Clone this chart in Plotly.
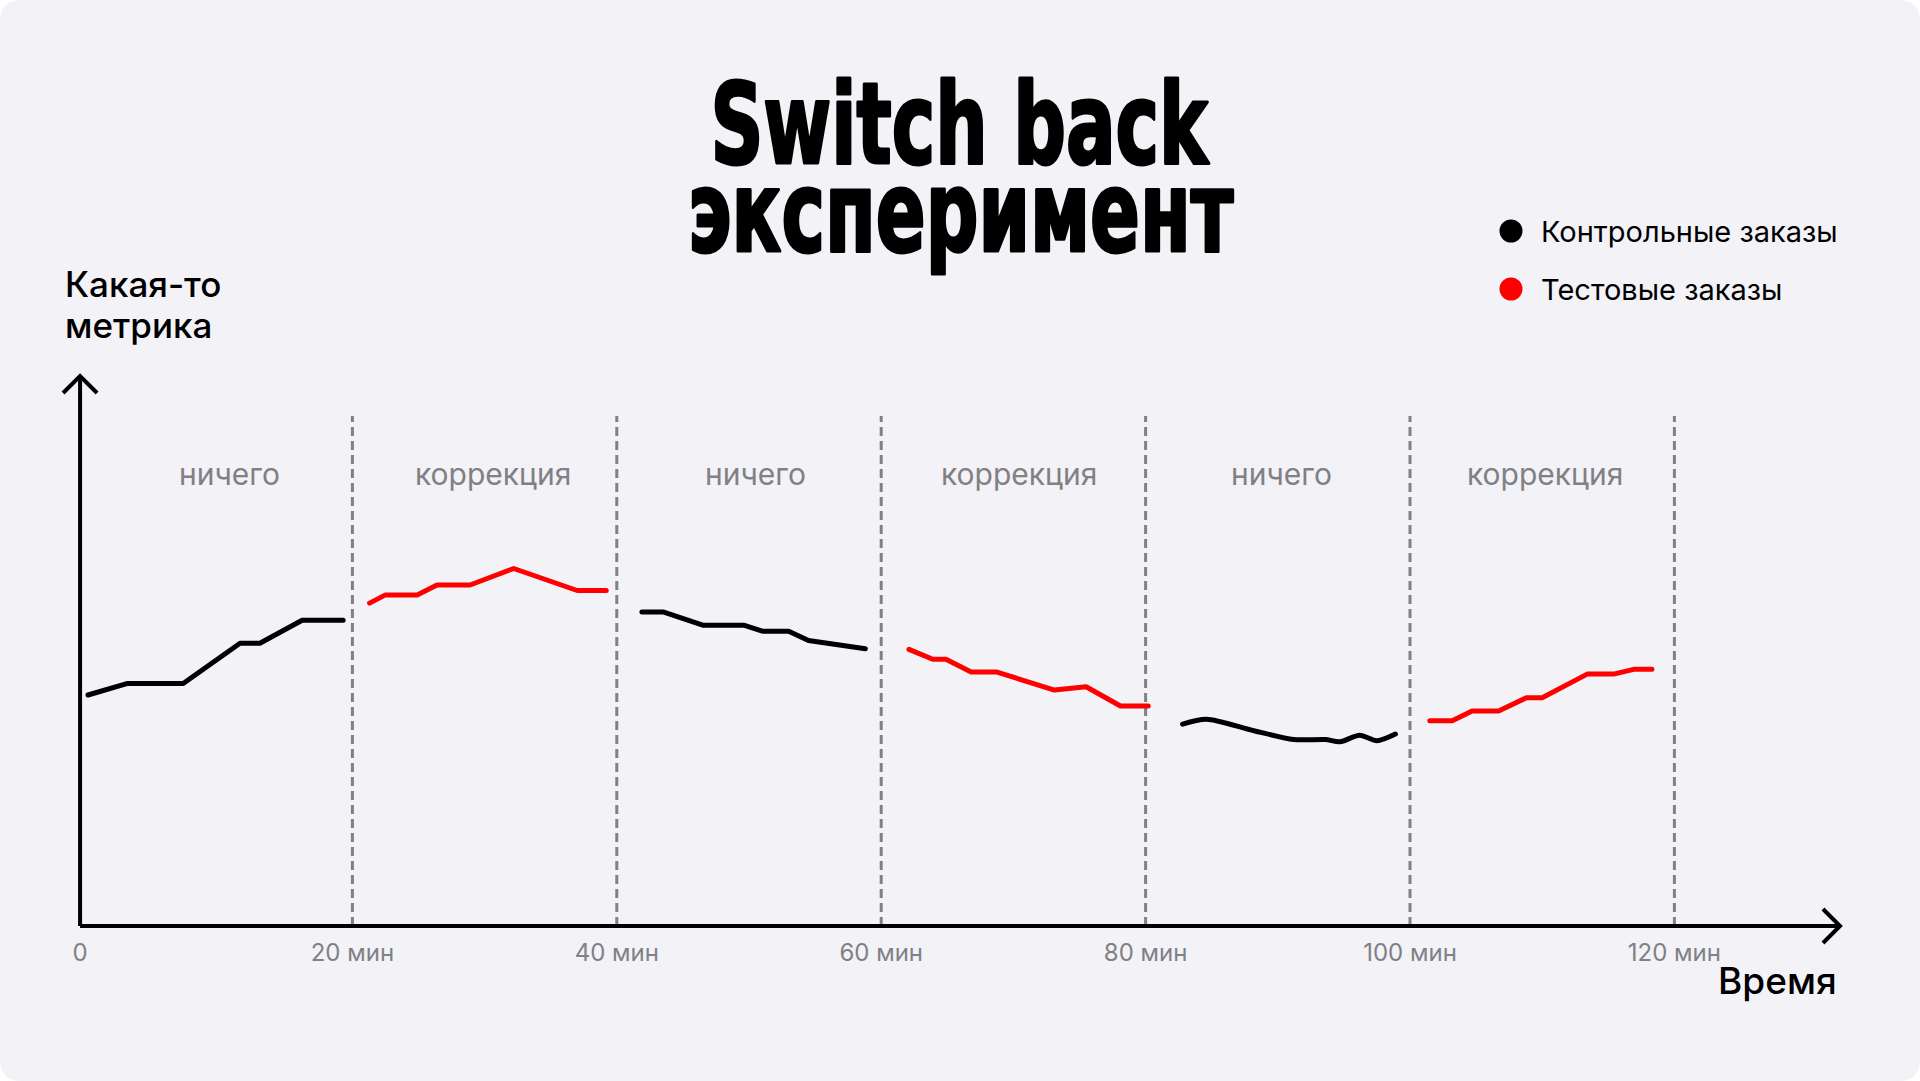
import plotly.graph_objects as go

W, H = 1920, 1081

# ---------------- data (minutes vs metric value) ----------------
ctrl1_t = [0, 3.0, 7.2, 11.5, 13.0, 16.2, 19.3]
ctrl1_v = [42.0, 44.1, 44.1, 51.4, 51.4, 55.6, 55.6]
test1_t = [21.3, 22.5, 24.9, 26.4, 28.9, 32.2, 37.0, 39.2]
test1_v = [58.7, 60.2, 60.2, 62.0, 62.0, 65.0, 61.0, 61.0]
ctrl2_t = [41.9, 43.5, 46.5, 49.6, 51.0, 53.0, 54.5, 58.8]
ctrl2_v = [57.1, 57.1, 54.7, 54.7, 53.6, 53.6, 51.9, 50.4]
test2_t = [62.1, 63.9, 64.9, 66.8, 68.7, 73.1, 75.5, 78.1, 80.2]
test2_v = [50.3, 48.5, 48.5, 46.2, 46.2, 42.9, 43.5, 40.0, 40.0]
ctrl3_t = [82.8, 84.6, 88.2, 91.2, 93.6, 94.7, 96.2, 97.5, 98.9]
ctrl3_v = [36.7, 37.6, 35.5, 33.9, 33.9, 33.5, 34.7, 33.7, 34.9]
test3_t = [101.5, 103.2, 104.7, 106.7, 108.8, 110.0, 113.4, 115.4, 117.0, 118.3]
test3_v = [37.3, 37.3, 39.1, 39.1, 41.5, 41.5, 45.8, 45.8, 46.7, 46.7]

boundaries = [20, 40, 60, 80, 100, 120]
section_labels = ["ничего", "коррекция", "ничего", "коррекция", "ничего", "коррекция"]
section_centers = [10.7, 30.6, 50.5, 70.4, 90.3, 110.2]
tick_vals = [-0.6, 20, 40, 60, 80, 100, 120]
tick_text = ["0", "20 мин", "40 мин", "60 мин", "80 мин", "100 мин", "120 мин"]
series_names = ["Контрольные заказы", "Тестовые заказы"]
title_lines = ["Switch back", "эксперимент"]
y_label_lines = ["Какая-то", "метрика"]
x_label = "Время"

# ---------------- styling ----------------
BG = "#f2f2f7"
GREY = "#808085"
BLACK = "#000000"
RED = "#ff0000"
FONT = "Inter, Roboto, sans-serif"
TITLE_FONT = "DejaVu Sans Condensed, DejaVu Sans, sans-serif"

# pixel <-> data mapping (plot area = full page)
PX0, PX_PER_MIN = 88.0, 13.22      # x pixel of t=0, pixels per minute
PY0, PX_PER_UNIT = 926.0, 5.5      # y pixel of value 0, pixels per unit
x_range = [(0 - PX0) / PX_PER_MIN, (W - PX0) / PX_PER_MIN]
y_range = [(PY0 - H) / PX_PER_UNIT, PY0 / PX_PER_UNIT]

AX0 = -0.6           # y-axis position (minutes)
Y_TOP = 100.0        # top of y axis arrow
X_END = (1840 - PX0) / PX_PER_MIN
ARM_X = 17 / PX_PER_MIN
ARM_Y = 17 / PX_PER_UNIT

fig = go.Figure()

segments = [
    (ctrl1_t, ctrl1_v, BLACK, "linear"),
    (test1_t, test1_v, RED, "linear"),
    (ctrl2_t, ctrl2_v, BLACK, "linear"),
    (test2_t, test2_v, RED, "linear"),
    (ctrl3_t, ctrl3_v, BLACK, "spline"),
    (test3_t, test3_v, RED, "linear"),
]
for t, v, c, shp in segments:
    fig.add_trace(go.Scatter(x=t, y=v, mode="lines",
                             line=dict(color=c, width=5, shape=shp, smoothing=0.8),
                             showlegend=False, hoverinfo="skip"))

shapes = []
# rounded background card
rx, ry = 22 / W, 22 / H
shapes.append(dict(
    type="path", xref="paper", yref="paper", layer="below",
    path=(f"M {rx},0 L {1-rx},0 Q 1,0 1,{ry} L 1,{1-ry} Q 1,1 {1-rx},1 "
          f"L {rx},1 Q 0,1 0,{1-ry} L 0,{ry} Q 0,0 {rx},0 Z"),
    fillcolor=BG, line=dict(width=0)))
# dashed boundaries
DASH_TOP = (PY0 - 416) / PX_PER_UNIT
for b in boundaries:
    shapes.append(dict(type="line", xref="x", yref="y", x0=b, x1=b, y0=0, y1=DASH_TOP,
                       line=dict(color=GREY, width=3, dash="9px,5px"), layer="below"))
# axes
shapes.append(dict(type="line", xref="x", yref="y", x0=AX0, x1=AX0, y0=0, y1=Y_TOP,
                   line=dict(color=BLACK, width=4)))
shapes.append(dict(type="line", xref="x", yref="y", x0=AX0, x1=X_END, y0=0, y1=0,
                   line=dict(color=BLACK, width=4)))
# arrow heads
shapes.append(dict(type="path", xref="x", yref="y",
                   path=f"M {AX0-ARM_X},{Y_TOP-ARM_Y} L {AX0},{Y_TOP} L {AX0+ARM_X},{Y_TOP-ARM_Y}",
                   line=dict(color=BLACK, width=4)))
shapes.append(dict(type="path", xref="x", yref="y",
                   path=f"M {X_END-ARM_X},{ARM_Y} L {X_END},0 L {X_END-ARM_X},{-ARM_Y}",
                   line=dict(color=BLACK, width=4)))
# legend dots
for cy, col in [(231, BLACK), (289, RED)]:
    shapes.append(dict(type="circle", xref="paper", yref="paper",
                       xsizemode="pixel", ysizemode="pixel",
                       xanchor=1511 / W, yanchor=1 - cy / H,
                       x0=-11.5, x1=11.5, y0=-11.5, y1=11.5,
                       fillcolor=col, line=dict(width=0)))

ann = []
def pa(x, y):
    return x / W, 1 - y / H

# title (annotations 0 and 1)
for txt, cy in zip(title_lines, [124, 212]):
    x, y = pa(960, cy)
    ann.append(dict(text=txt, x=x, y=y, xref="paper", yref="paper", xanchor="center",
                    yanchor="middle", showarrow=False,
                    font=dict(family=TITLE_FONT, size=112, color=BLACK, weight="bold")))
# legend text
for name, cy in zip(series_names, [231, 289]):
    x, y = pa(1539, cy)
    ann.append(dict(text=name, x=x, y=y, xref="paper", yref="paper", xanchor="left",
                    yanchor="middle", showarrow=False,
                    font=dict(family=FONT, size=29, color=BLACK)))
# y label
for txt, cy in zip(y_label_lines, [284, 325]):
    x, y = pa(63, cy)
    ann.append(dict(text=txt, x=x, y=y, xref="paper", yref="paper",
                    xanchor="left", yanchor="middle", showarrow=False,
                    font=dict(family=FONT, size=35, color=BLACK, weight=500)))
# x label
x, y = pa(1839, 980)
ann.append(dict(text=x_label, x=x, y=y, xref="paper", yref="paper",
                xanchor="right", yanchor="middle", showarrow=False,
                font=dict(family=FONT, size=37, color=BLACK, weight=500)))
# section labels
LABEL_Y = (PY0 - 474) / PX_PER_UNIT
for cx, lab in zip(section_centers, section_labels):
    ann.append(dict(text=lab, x=cx, y=LABEL_Y, xref="x", yref="y",
                    xanchor="center", yanchor="middle", showarrow=False,
                    font=dict(family=FONT, size=30, color=GREY)))

fig.update_layout(
    width=W, height=H,
    margin=dict(l=0, r=0, t=0, b=0),
    paper_bgcolor="#ffffff", plot_bgcolor="rgba(0,0,0,0)",
    shapes=shapes, annotations=ann,
    xaxis=dict(range=x_range, domain=[0, 1], anchor="free", position=(H - PY0) / H,
               showgrid=False, zeroline=False, showline=False, ticks="",
               tickvals=tick_vals, ticktext=tick_text, ticklabelstandoff=10,
               tickfont=dict(family=FONT, size=24, color=GREY), fixedrange=True),
    yaxis=dict(range=y_range, domain=[0, 1], visible=False, fixedrange=True),
)

# condensed heavy title look + rounded line caps
post = """
(function(){
  var gd = document.getElementById('{plot_id}');
  function tweak(){
    gd.querySelectorAll('g.annotation[data-index="0"] text, g.annotation[data-index="1"] text')
      .forEach(function(t){
        t.style.transformBox = 'fill-box';
        t.style.transformOrigin = '50% 50%';
        t.style.transform = 'scaleX(0.73)';
        t.style.stroke = '#000';
        t.style.strokeWidth = '3px';
        t.style.strokeLinejoin = 'round';
      });
    gd.querySelectorAll('path.js-line').forEach(function(p){
      p.style.strokeLinecap = 'round';
      p.style.strokeLinejoin = 'round';
    });
  }
  tweak();
  if (gd.on) gd.on('plotly_afterplot', tweak);
  setTimeout(tweak, 30);
  setTimeout(tweak, 300);
})();
"""
fig.write_html("out.html", post_script=post)
